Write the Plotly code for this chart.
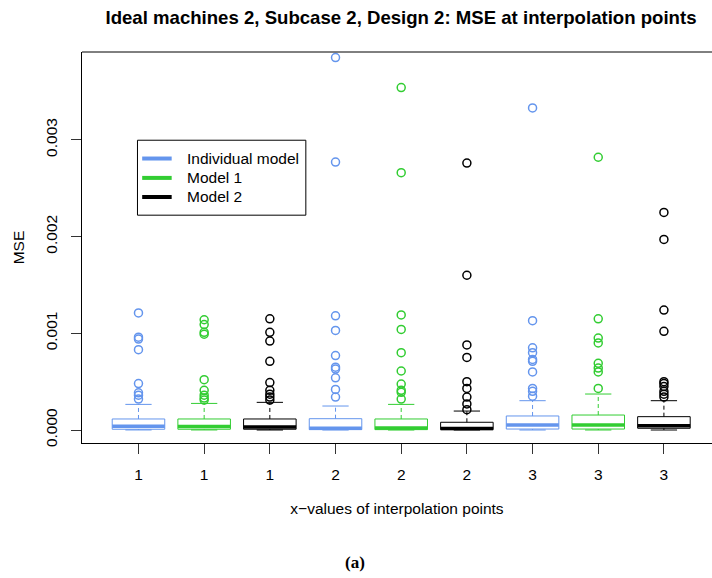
import plotly.graph_objects as go

# ---- data ----
tick_labels = ["1", "1", "1", "2", "2", "2", "3", "3", "3"]
box_models = ["Individual model", "Model 1", "Model 2"] * 3
legend_models = ["Individual model", "Model 1", "Model 2"]
model_colors = {"Individual model": "#6495ED", "Model 1": "#32CD32", "Model 2": "#000000"}

lower_whisker = [0.0000005, 0.0000005, 0.0, 0.0, 0.0, 0.0, 0.0, 0.0, 0.0]
q1 = [0.000008, 0.000008, 0.000008, 0.000004, 0.000004, 0.000004, 0.000010, 0.000010, 0.000018]
median = [0.000040, 0.000035, 0.000030, 0.000018, 0.000022, 0.000015, 0.000052, 0.000052, 0.000045]
q3 = [0.000114, 0.000114, 0.000114, 0.000117, 0.000114, 0.000080, 0.000145, 0.000155, 0.000138]
upper_whisker = [0.000265, 0.000275, 0.000286, 0.000248, 0.000265, 0.000196, 0.000303, 0.000372, 0.000303]

outliers = [
    [0.00121, 0.00096, 0.00094, 0.00083, 0.00048, 0.000385, 0.00036, 0.00032],
    [0.00114, 0.00109, 0.00101, 0.00099, 0.00052, 0.00041, 0.00036, 0.00033, 0.00031],
    [0.00115, 0.00101, 0.00092, 0.00071, 0.00049, 0.00041, 0.00037, 0.00034, 0.00031],
    [0.00385, 0.00277, 0.00118, 0.00103, 0.00077, 0.00065, 0.00063, 0.00054, 0.00042, 0.00034],
    [0.00354, 0.00266, 0.00119, 0.00104, 0.00080, 0.00061, 0.000475, 0.00041, 0.00039, 0.00032],
    [0.00276, 0.00160, 0.00088, 0.00075, 0.00050, 0.00043, 0.00034, 0.00027, 0.00021],
    [0.00333, 0.00113, 0.00085, 0.00080, 0.00073, 0.00071, 0.00060, 0.00043, 0.00040, 0.00035],
    [0.00282, 0.00115, 0.00095, 0.00090, 0.00069, 0.00064, 0.00060, 0.00043],
    [0.00225, 0.00197, 0.00124, 0.00102, 0.00050, 0.00048, 0.00045, 0.00040, 0.00037, 0.00034],
]

y_tick_vals = [0.0, 0.001, 0.002, 0.003]
y_tick_text = ["0.000", "0.001", "0.002", "0.003"]

FONT = "Liberation Sans, Arial, sans-serif"
FS = 15.5
BOX_HALF = 0.4
STAPLE_HALF = 0.2

fig = go.Figure()
for i in range(len(tick_labels)):
    pos = i + 1
    m = box_models[i]
    c = model_colors[m]
    xs = [pos - BOX_HALF, pos + BOX_HALF, pos + BOX_HALF, pos - BOX_HALF, pos - BOX_HALF, None,
          pos - STAPLE_HALF, pos + STAPLE_HALF, None,
          pos - STAPLE_HALF, pos + STAPLE_HALF]
    ys = [q1[i], q1[i], q3[i], q3[i], q1[i], None,
          upper_whisker[i], upper_whisker[i], None,
          lower_whisker[i], lower_whisker[i]]
    fig.add_trace(go.Scatter(x=xs, y=ys, mode="lines", line=dict(color=c, width=1),
                             showlegend=False, hoverinfo="skip"))
    fig.add_trace(go.Scatter(x=[pos, pos, None, pos, pos],
                             y=[q3[i], upper_whisker[i], None, q1[i], lower_whisker[i]],
                             mode="lines", line=dict(color=c, width=1, dash="4px,3px"),
                             showlegend=False, hoverinfo="skip"))
    fig.add_trace(go.Scatter(x=[pos - BOX_HALF, pos + BOX_HALF], y=[median[i], median[i]],
                             mode="lines", line=dict(color=c, width=3.5),
                             name=m, showlegend=False))
    fig.add_trace(go.Scatter(x=[pos] * len(outliers[i]), y=outliers[i], mode="markers",
                             marker=dict(symbol="circle-open", size=8, color=c, line=dict(width=1.5)),
                             name=m, showlegend=False))

# plot-area geometry (pixels)
L, T, B = 81.8, 51.7, 443.0
W, H = 712, 578
px_per_unit_x = 65.7
x_lo = 0.14
x_hi = x_lo + (W - L) / px_per_unit_x
px_per_y = 96.8 / 0.001
y0_px = 430.0
y_lo = -(B - y0_px) / px_per_y
y_hi = (y0_px - T) / px_per_y


def px_x(p):
    return (p - L) / (W - L)


def px_y(p):
    return (B - p) / (B - T)


# manual R-style legend
shapes = [dict(type="line", xref="paper", yref="paper", x0=0, x1=1, y0=1, y1=1,
               line=dict(color="black", width=1)),
          dict(type="rect", xref="paper", yref="paper", x0=px_x(137.3), x1=px_x(305.7),
               y0=px_y(215), y1=px_y(140), line=dict(color="black", width=1),
               fillcolor="white", layer="above")]
annotations = []
legend_rows = [158.3, 177.7, 196.8]
for m, ry in zip(legend_models, legend_rows):
    shapes.append(dict(type="line", xref="paper", yref="paper", x0=px_x(142), x1=px_x(171.5),
                       y0=px_y(ry), y1=px_y(ry), line=dict(color=model_colors[m], width=4),
                       layer="above"))
    annotations.append(dict(text=m, xref="paper", yref="paper", x=px_x(184.5), y=px_y(ry),
                            xanchor="left", yanchor="middle", showarrow=False,
                            font=dict(family=FONT, size=FS, color="black")))

annotations.append(dict(text="<b>(a)</b>", xref="paper", yref="paper",
                        x=px_x(355), y=px_y(563),
                        xanchor="center", yanchor="middle", showarrow=False,
                        font=dict(family="Liberation Serif, Times New Roman, serif", size=17,
                                  color="black")))

fig.update_layout(
    width=W, height=H,
    margin=dict(l=L, r=0, t=T, b=H - B),
    paper_bgcolor="white", plot_bgcolor="white",
    font=dict(family=FONT, size=FS, color="black"),
    showlegend=False,
    title=dict(text="<b>Ideal machines 2, Subcase 2, Design 2: MSE at interpolation points</b>",
               x=401 / W, xanchor="center", xref="container",
               y=1 - 17 / H, yanchor="middle", yref="container",
               font=dict(family=FONT, size=18.6, color="black")),
    xaxis=dict(range=[x_lo, x_hi], tickmode="array", tickvals=list(range(1, 10)),
               ticktext=tick_labels, ticks="outside", ticklen=10, tickcolor="#333",
               showline=True, linecolor="black", linewidth=1, showgrid=False, zeroline=False,
               title=dict(text="x\u2212values of interpolation points", standoff=21,
                          font=dict(size=FS)),
               ticklabelstandoff=7),
    yaxis=dict(range=[y_lo, y_hi], tickmode="array", tickvals=y_tick_vals, ticktext=y_tick_text,
               tickangle=-90, ticks="outside", ticklen=10, tickcolor="#333",
               showline=True, linecolor="black", linewidth=1, showgrid=False, zeroline=False,
               title=dict(text="MSE", standoff=14, font=dict(size=FS)),
               ticklabelstandoff=8),
    shapes=shapes,
    annotations=annotations,
)

fig.write_html("out.html")
